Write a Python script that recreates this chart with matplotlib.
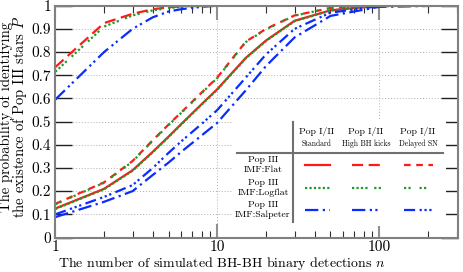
import numpy as np
import matplotlib
matplotlib.use('Agg')
import matplotlib.pyplot as plt
from matplotlib.patches import Rectangle
from matplotlib.lines import Line2D

plt.rcParams['font.family'] = ['cmr10', 'DejaVu Serif']
plt.rcParams['mathtext.fontset'] = 'cm'
plt.rcParams['axes.formatter.use_mathtext'] = True

# number of detections
n = [1, 2, 3, 4, 5, 6, 8, 10, 15, 20, 30, 50, 100, 250]

# Pop III IMF:Flat (red)
flat_std = [0.125, 0.21, 0.29, 0.37, 0.435, 0.49, 0.575, 0.64, 0.775, 0.85, 0.935, 0.98, 1.0, 1.0]
flat_kick = [0.735, 0.925, 0.965, 0.985, 0.993, 0.997, 1.0, 1.0, 1.0, 1.0, 1.0, 1.0, 1.0, 1.0]
flat_del = [0.145, 0.238, 0.33, 0.42, 0.487, 0.54, 0.625, 0.69, 0.845, 0.90, 0.958, 0.99, 1.0, 1.0]

# Pop III IMF:Logflat (green)
log_std = [0.123, 0.208, 0.288, 0.368, 0.433, 0.488, 0.573, 0.638, 0.773, 0.848, 0.933, 0.979, 1.0, 1.0]
log_kick = [0.715, 0.91, 0.958, 0.98, 0.99, 0.995, 0.999, 1.0, 1.0, 1.0, 1.0, 1.0, 1.0, 1.0]
log_del = [0.143, 0.236, 0.328, 0.418, 0.485, 0.538, 0.623, 0.688, 0.843, 0.898, 0.957, 0.99, 1.0, 1.0]

# Pop III IMF:Salpeter (blue)
salp_std = [0.088, 0.154, 0.20, 0.27, 0.323, 0.37, 0.44, 0.495, 0.635, 0.74, 0.863, 0.956, 0.995, 1.0]
salp_kick = [0.595, 0.80, 0.90, 0.95, 0.975, 0.985, 0.995, 1.0, 1.0, 1.0, 1.0, 1.0, 1.0, 1.0]
salp_del = [0.10, 0.175, 0.226, 0.30, 0.365, 0.415, 0.49, 0.55, 0.69, 0.79, 0.90, 0.97, 0.998, 1.0]

red = '#ff1a1a'
green = '#1e9a2a'
blue = '#0a2cff'
ls_red = ['-', (0, (5, 2.5)), (0, (3, 2.5))]
ls_green = [(0, (1, 1)), (0, (1, 1, 1, 1, 1, 1, 1, 3)), (0, (1, 1, 1, 4))]
ls_blue = [(0, (6, 2, 1, 2)), (0, (6, 2, 1, 1.5, 1, 2)), (0, (5, 2, 1, 1.2, 1, 1.2, 1, 2))]

W, H = 463, 272
fig = plt.figure(figsize=(W / 100, H / 100), dpi=100)
ax = fig.add_axes([55.3 / W, 34.5 / H, 402.4 / W, 231.8 / H])

lw = 1.6
for ys, ls in zip([flat_std, flat_kick, flat_del], ls_red):
    ax.plot(n, ys, color=red, ls=ls, lw=lw)
for ys, ls in zip([log_std, log_kick, log_del], ls_green):
    ax.plot(n, ys, color=green, ls=ls, lw=lw)
for ys, ls in zip([salp_std, salp_kick, salp_del], ls_blue):
    ax.plot(n, ys, color=blue, ls=ls, lw=lw)

ax.set_xscale('log')
ax.set_xlim(1, 305)
ax.set_ylim(0, 1)
ax.set_xticks([1, 10, 100])
ax.set_xticklabels(['1', '10', '100'])
ax.set_yticks(np.arange(0, 1.01, 0.1))
ax.set_yticklabels(['0', '0.1', '0.2', '0.3', '0.4', '0.5', '0.6', '0.7', '0.8', '0.9', '1'])
ax.grid(True, which='major', ls=(0, (1, 2)), color='#b0b0b0', lw=0.7)

for s in ax.spines.values():
    s.set_color('#808080')
    s.set_linewidth(1.5)
ax.tick_params(axis='x', which='major', direction='in', top=True, length=10, width=1.5,
               color='#909090', labelsize=11, pad=2)
ax.tick_params(axis='x', which='minor', direction='in', top=True, length=5, width=0.8,
               color='#303030')
ax.tick_params(axis='y', which='major', direction='in', right=True, length=12, width=1.0,
               color='#202020', labelsize=11, pad=3)

# axis titles placed in figure pixels
fig.text(221.5 / W, 1 - 263.5 / H, 'The number of simulated BH-BH binary detections $n$',
         fontsize=10, ha='center', va='center')
fig.text(14 / W, 1 - 117 / H, 'The probability of identifying\nthe existence of Pop III stars $P$',
         fontsize=10.5, ha='center', va='center', rotation=90, linespacing=0.8,
         multialignment='center')

# table-like legend
T = ax.transAxes
def px(x, y):
    return ((x - 55.3) / 402.4, (237.5 - y) / 231.8)

x0, y0 = px(232, 226)
x1, y1 = px(446, 120)
ax.add_patch(Rectangle((x0, y0), x1 - x0, y1 - y0, transform=T, facecolor='white',
                       edgecolor='none', zorder=5))
ax.add_line(Line2D(*zip(px(293, 122), px(293, 222)), transform=T, color='#707070', lw=1.5, zorder=6))
ax.add_line(Line2D(*zip(px(237, 152.7), px(443, 152.7)), transform=T, color='#707070', lw=1.5, zorder=6))

cols = [317, 366, 418]
for cx, sub in zip(cols, ['Standard', 'High BH kicks', 'Delayed SN']):
    ax.text(*px(cx, 131), 'Pop I/II', transform=T, ha='center', va='center', fontsize=7, zorder=7)
    ax.text(*px(cx, 144), sub, transform=T, ha='center', va='center', fontsize=5.5, zorder=7)

rows = ['IMF:Flat', 'IMF:Logflat', 'IMF:Salpeter']
row_y = [164.5, 187.5, 209.5]
for ry, lab in zip(row_y, rows):
    ax.text(*px(263, ry - 5), 'Pop III', transform=T, ha='center', va='center', fontsize=7, zorder=7)
    ax.text(*px(263, ry + 5), lab, transform=T, ha='center', va='center', fontsize=7, zorder=7)

seg = [(305, 330), (352, 382), (404, 433)]
for ry, color, styles in zip(row_y, [red, green, blue], [ls_red, ls_green, ls_blue]):
    for (sx0, sx1), ls in zip(seg, styles):
        ax.add_line(Line2D(*zip(px(sx0, ry), px(sx1, ry)), transform=T, color=color,
                           ls=ls, lw=lw, zorder=7))

fig.savefig('out.png', dpi=100)
